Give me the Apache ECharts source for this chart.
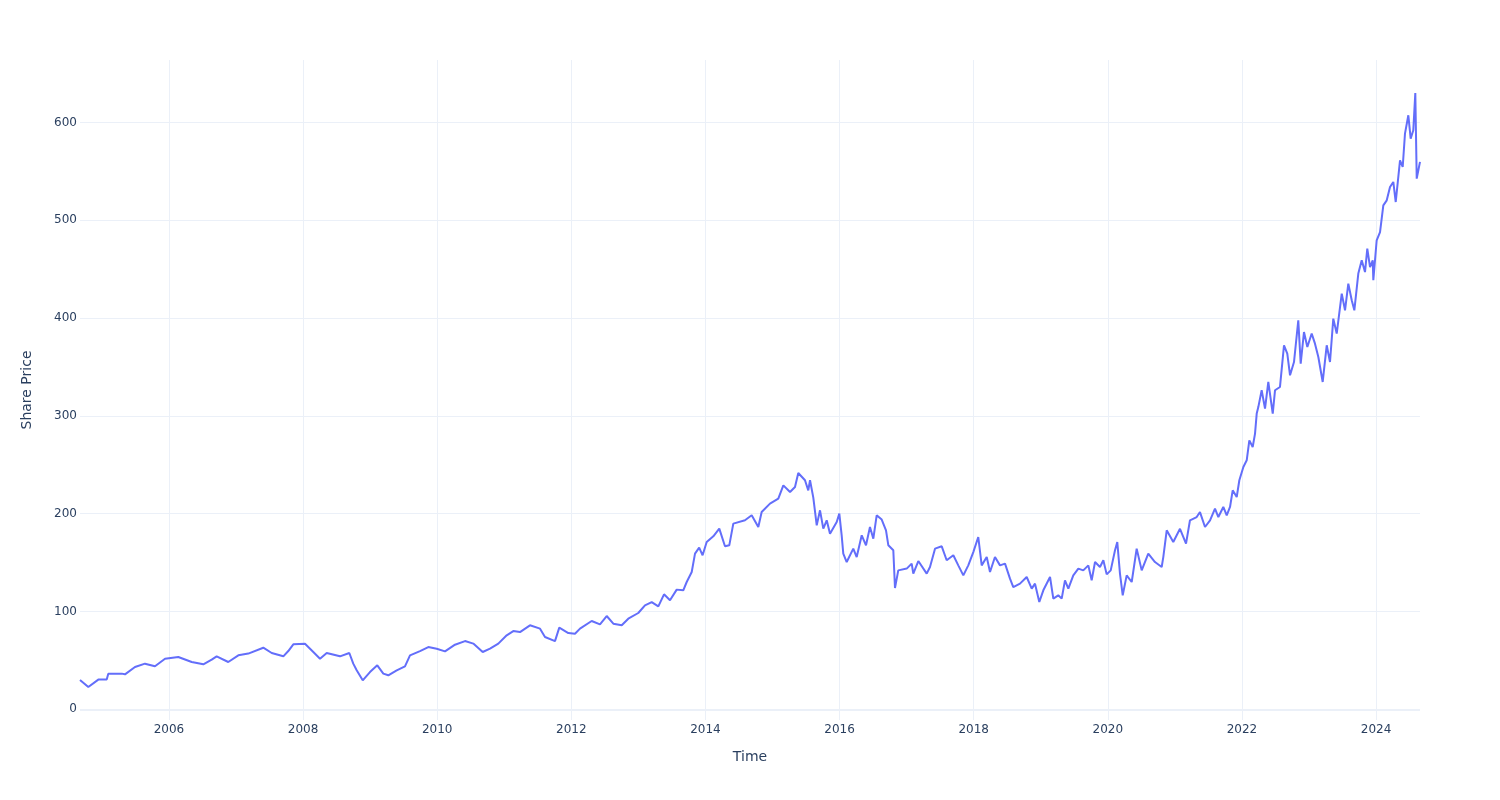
<!DOCTYPE html>
<html><head><meta charset="utf-8">
<script src="https://cdn.jsdelivr.net/npm/echarts@6/dist/echarts.min.js"></script>
<style>html,body{margin:0;padding:0;background:#fff}#c{width:1500px;height:800px}</style>
</head><body><div id="c"></div>
<script>
// Time in decimal years, share price
const years = [
2004.673,2004.797,2004.946,2005.071,2005.095,2005.295,2005.344,2005.493,2005.642,2005.791,
2005.941,2006.139,2006.339,2006.512,2006.637,2006.711,2006.884,2007.034,2007.183,2007.406,
2007.532,2007.705,2007.779,2007.854,2008.028,2008.152,2008.252,2008.352,2008.550,2008.689,
2008.748,2008.799,2008.889,2008.997,2009.106,2009.196,2009.270,2009.396,2009.519,2009.594,
2009.743,2009.867,2009.992,2010.116,2010.265,2010.414,2010.538,2010.678,2010.787,2010.911,
2011.036,2011.134,2011.234,2011.383,2011.533,2011.607,2011.756,2011.820,2011.955,2012.054,
2012.129,2012.303,2012.427,2012.527,2012.626,2012.751,2012.849,2012.998,2013.098,2013.198,
2013.297,2013.382,2013.471,2013.571,2013.669,2013.720,2013.795,2013.844,2013.906,2013.957,
2014.018,2014.117,2014.206,2014.291,2014.355,2014.415,2014.589,2014.689,2014.788,2014.838,
2014.962,2015.086,2015.161,2015.261,2015.335,2015.384,2015.484,2015.533,2015.559,2015.608,
2015.659,2015.708,2015.757,2015.808,2015.857,2015.957,2015.996,2016.031,2016.055,2016.106,
2016.204,2016.255,2016.330,2016.394,2016.453,2016.503,2016.553,2016.628,2016.692,2016.727,
2016.801,2016.826,2016.875,2017.001,2017.075,2017.099,2017.174,2017.299,2017.348,2017.423,
2017.523,2017.597,2017.696,2017.770,2017.845,2017.919,2017.994,2018.068,2018.119,2018.194,
2018.243,2018.317,2018.392,2018.467,2018.541,2018.590,2018.690,2018.790,2018.865,2018.914,
2018.978,2019.038,2019.138,2019.187,2019.261,2019.312,2019.361,2019.411,2019.485,2019.560,
2019.634,2019.709,2019.759,2019.809,2019.883,2019.933,2019.983,2020.043,2020.107,2020.141,
2020.181,2020.222,2020.281,2020.356,2020.430,2020.505,2020.603,2020.703,2020.803,2020.827,
2020.878,2020.976,2021.076,2021.166,2021.225,2021.325,2021.374,2021.449,2021.524,2021.598,
2021.648,2021.722,2021.773,2021.822,2021.862,2021.922,2021.961,2022.021,2022.071,2022.110,
2022.160,2022.195,2022.220,2022.244,2022.294,2022.344,2022.393,2022.459,2022.493,2022.567,
2022.627,2022.676,2022.717,2022.776,2022.840,2022.876,2022.925,2022.975,2023.040,2023.089,
2023.139,2023.204,2023.264,2023.313,2023.362,2023.413,2023.488,2023.537,2023.586,2023.637,
2023.676,2023.735,2023.786,2023.835,2023.869,2023.910,2023.950,2023.959,2024.009,2024.059,
2024.108,2024.159,2024.208,2024.257,2024.293,2024.357,2024.397,2024.431,2024.481,2024.516,
2024.555,2024.585,2024.606,2024.655
];
const prices = [
30,22.8,30.4,30.4,36.5,36.5,35.8,43.3,46.7,44,
51.8,53.5,48.4,46,50.8,54.2,48.4,55.2,57,63,
57.6,54.2,59.6,66.5,67,58.6,51.8,57.6,54.2,57.6,
46.7,39.9,29.7,38.1,45,36.5,34.8,39.9,44,55.2,
59.6,63.7,62,59.3,66.1,69.8,67.2,58.6,62,67.2,
75.7,80,79,85.9,82.5,74,69.8,83.5,78,77.3,
82.5,90.3,86.9,95.4,87.6,85.9,92.7,98.5,106.3,109.7,
105.3,117.6,111.5,122.4,121.7,130.2,140.4,159.2,165.3,157.5,
171.1,176.9,184.8,166.7,167.7,189.9,193.3,198.4,186.4,201.7,
210.3,215.4,229,222.2,227.3,241.6,234.2,223.9,234.2,216.5,
188.1,203.5,184.8,193.3,179.6,191.5,200.1,177.9,159.2,150.6,
164.3,155.7,177.9,167.7,186.4,174.5,198.4,194,183,167.7,
162.6,124,142.1,143.9,149,138.8,151.6,138.8,145.5,164.3,
166.7,152.4,157.5,147.2,137,147.2,160.8,176.2,147.2,155.7,
140.4,155.7,147.2,149,133.6,125,128.5,135.3,123.4,128.5,
109.7,121.7,135.3,113.2,116.6,113.2,131.9,123.4,137,143.9,
142.1,147.2,131.9,150.6,145.5,152.4,138,142.1,162.6,171.1,
138.8,116.6,137,130.2,164.3,142.1,159.2,150.6,145.5,155.7,
183,171.1,184.6,169.4,193.3,196.6,201.7,186.4,193.3,205.2,
196.6,206.9,198.4,206.9,223.9,217.1,234.2,247.8,254.6,275,
268.2,281.9,302.4,309,326.2,307.5,334.7,302.4,326.2,329.6,
372.2,363.7,341.5,355.1,397.8,353.5,385.8,370.5,384.2,373.9,
360.2,334.7,372.2,355.1,399.5,384.2,425,408,435.3,418.2,
408,445.5,459.1,447.1,471,452.2,459.1,438.7,479.6,488,
515.3,520.4,534,539.2,518.7,561.3,554.5,588.6,607.4,583.5,
592,630.2,542.6,559.8
];
const xTicks = [2006,2008,2010,2012,2014,2016,2018,2020,2022,2024];
const yTicks = [0,100,200,300,400,500,600];
const xRange = [2004.673, 2024.655];
const yRange = [-10.9, 663.9];

const data = years.map((y, i) => [y, prices[i]]);
const txt = '#2a3f5f', grid = '#EBF0F8';
const chart = echarts.init(document.getElementById('c'), null, {renderer: 'canvas'});
chart.setOption({
  animation: false,
  backgroundColor: '#fff',
  textStyle: {fontFamily: 'DejaVu Sans'},
  grid: {left: 80, right: 80, top: 60, bottom: 80},
  xAxis: {
    type: 'value', min: xRange[0], max: xRange[1],
    name: 'Time', nameLocation: 'middle', nameGap: 30,
    nameTextStyle: {fontSize: 14, color: txt, fontFamily: 'DejaVu Sans'},
    axisLine: {show: false},
    axisTick: {show: false, customValues: xTicks},
    axisLabel: {customValues: xTicks, color: txt, fontSize: 12, margin: 4,
      fontFamily: 'DejaVu Sans', formatter: v => String(Math.round(v))},
    splitLine: {show: true, lineStyle: {color: grid, width: 1}}
  },
  yAxis: {
    type: 'value', min: yRange[0], max: yRange[1],
    name: 'Share Price', nameLocation: 'middle', nameGap: 46,
    nameTextStyle: {fontSize: 14, color: txt, fontFamily: 'DejaVu Sans'},
    axisLine: {show: false},
    axisTick: {show: false, customValues: yTicks},
    axisLabel: {customValues: yTicks, color: txt, fontSize: 12, margin: 3,
      fontFamily: 'DejaVu Sans', formatter: v => String(Math.round(v)),
      verticalAlign: 'middle', padding: [2, 0, 0, 0]},
    splitLine: {show: true, lineStyle: {color: grid, width: 1}}
  },
  series: [{
    type: 'line', data: data, showSymbol: false, symbol: 'none',
    lineStyle: {color: '#636efa', width: 2},
    itemStyle: {color: '#636efa'},
    markLine: {
      silent: true, symbol: ['none', 'none'], label: {show: false},
      lineStyle: {color: grid, width: 2, type: 'solid'},
      data: [{yAxis: 0}]
    }
  }]
});
</script>
</body></html>
